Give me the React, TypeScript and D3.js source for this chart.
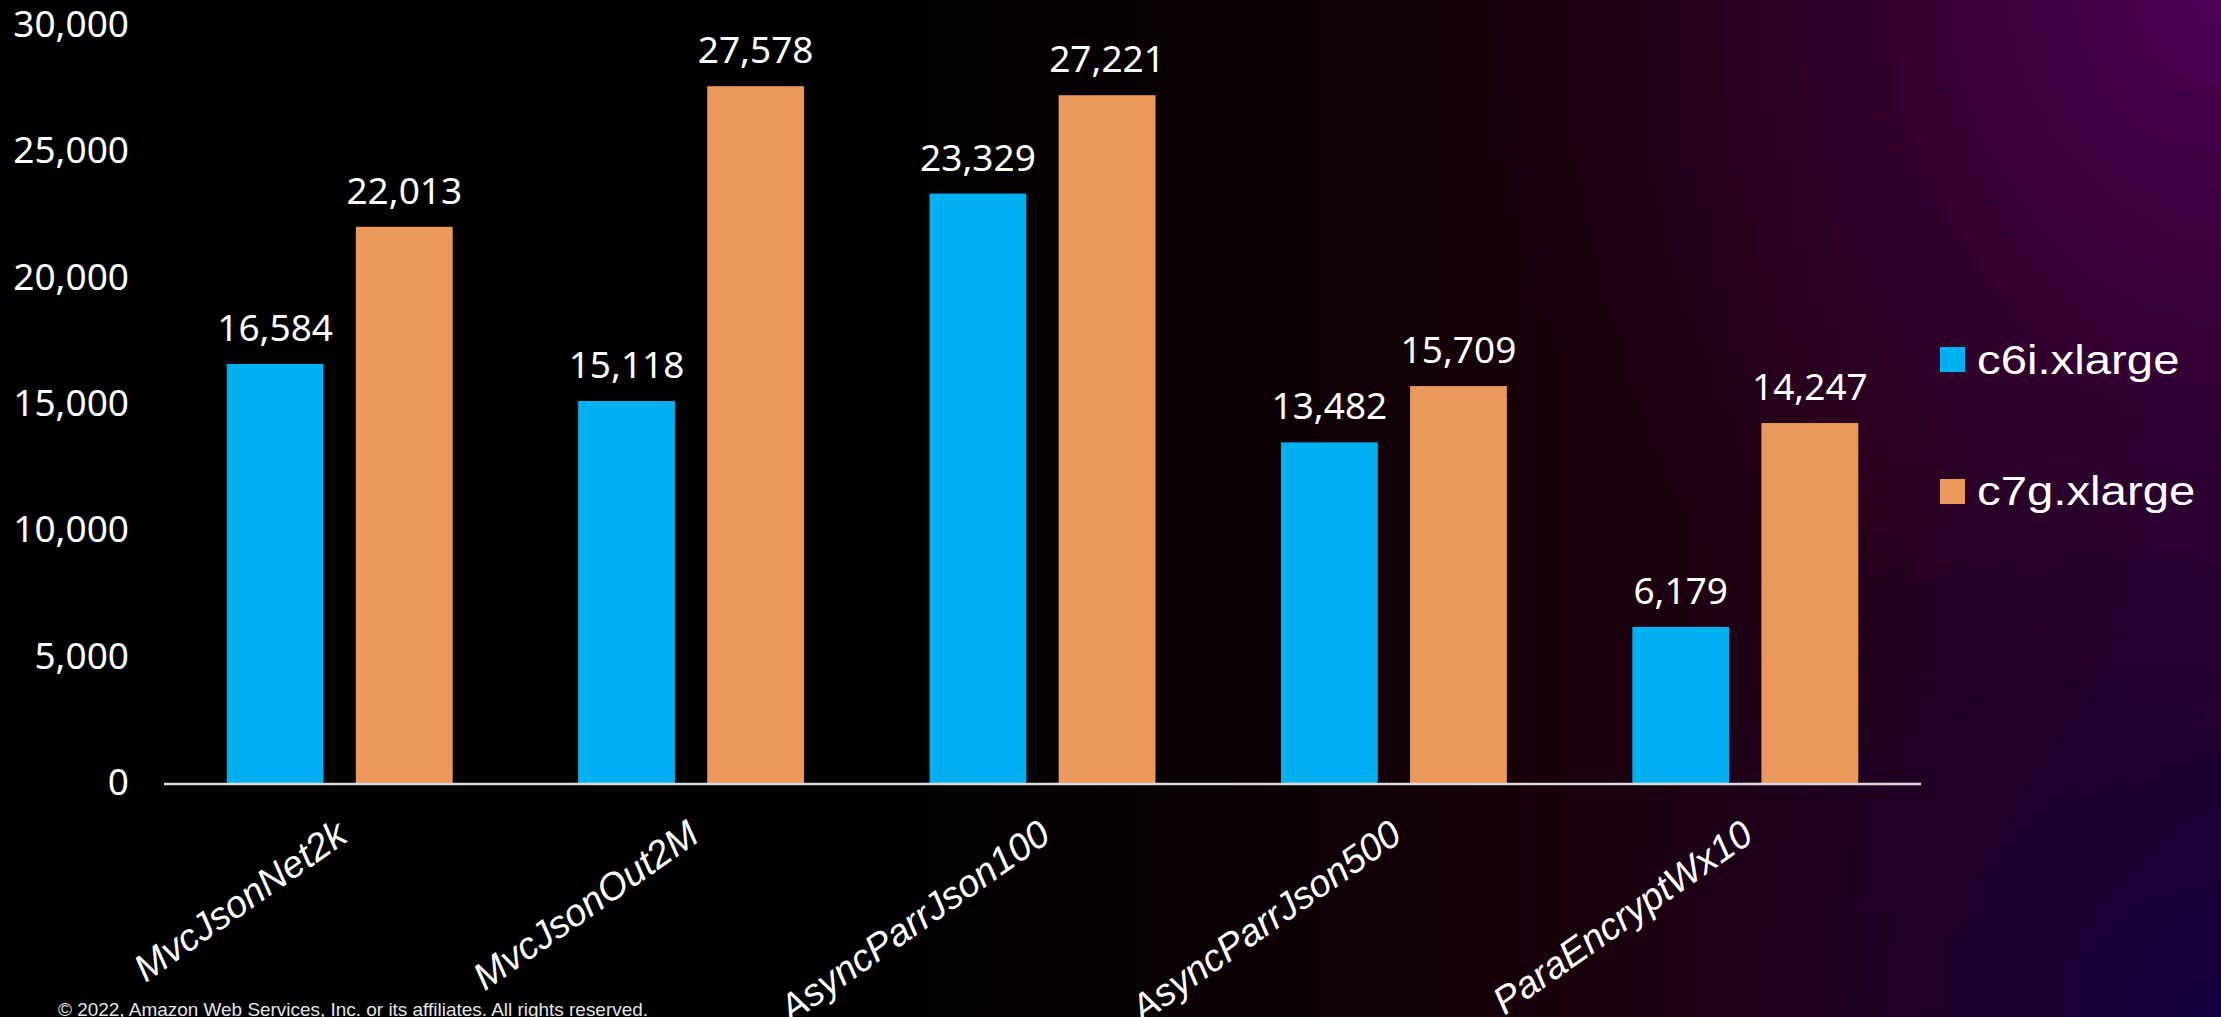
import React from "react";
import * as d3 from "d3";

const categories = ["MvcJsonNet2k", "MvcJsonOut2M", "AsyncParrJson100", "AsyncParrJson500", "ParaEncryptWx10"];
const seriesNames = ["c6i.xlarge", "c7g.xlarge"];
const c6iValues = [16584, 15118, 23329, 13482, 6179];
const c7gValues = [22013, 27578, 27221, 15709, 14247];
const yTicks = [0, 5000, 10000, 15000, 20000, 25000, 30000];
const seriesColors = ["#00B0F0", "#EC995C"];

const W = 2221;
const H = 1017;

export default function App() {
  const x = d3.scaleBand<string>().domain(categories).range([164, 1921]).paddingInner(0.357).paddingOuter(0.1785);
  const xInner = d3.scaleBand<string>().domain(seriesNames).range([0, x.bandwidth()]).paddingInner(0.25);
  const y = d3.scaleLinear().domain([0, 30000]).range([783, 25]);
  const fmt = d3.format(",");
  const seriesValues = [c6iValues, c7gValues];

  return (
    <svg width={W} height={H} style={{ position: "absolute", left: 0, top: 0, display: "block" }}>
      <defs>
        <linearGradient id="bgH" x1="0" y1="0" x2="1" y2="0">
          <stop offset="0" stopColor="#000000" />
          <stop offset="0.4" stopColor="#010000" />
          <stop offset="0.55" stopColor="#0b0204" />
          <stop offset="0.7" stopColor="#18000b" />
          <stop offset="0.85" stopColor="#260018" />
          <stop offset="1" stopColor="#2c002c" />
        </linearGradient>
        <radialGradient id="bgTR" cx={W} cy={0} r={750} gradientUnits="userSpaceOnUse">
          <stop offset="0" stopColor="#500058" stopOpacity="0.95" />
          <stop offset="0.5" stopColor="#3e0040" stopOpacity="0.45" />
          <stop offset="1" stopColor="#3e0040" stopOpacity="0" />
        </radialGradient>
        <radialGradient id="bgBR" cx={W} cy={H} r={650} gradientUnits="userSpaceOnUse">
          <stop offset="0" stopColor="#120040" stopOpacity="0.9" />
          <stop offset="0.6" stopColor="#150035" stopOpacity="0.35" />
          <stop offset="1" stopColor="#150035" stopOpacity="0" />
        </radialGradient>
      </defs>
      <rect x={0} y={0} width={W} height={H} fill="url(#bgH)" />
      <rect x={0} y={0} width={W} height={H} fill="url(#bgTR)" />
      <rect x={0} y={0} width={W} height={H} fill="url(#bgBR)" />

      {/* y tick labels */}
      {yTicks.map((t) => (
        <text key={t} x={129} y={y(t) + 12} textAnchor="end" fill="#ffffff" fontFamily="'Noto Sans', sans-serif" fontSize={37}>
          {fmt(t)}
        </text>
      ))}

      {/* bars */}
      {categories.map((c, i) => (
        <g key={c} transform={`translate(${x(c)},0)`}>
          {seriesNames.map((s, j) => {
            const v = seriesValues[j][i];
            const bx = xInner(s)!;
            return (
              <g key={s}>
                <rect x={bx} y={y(v)} width={xInner.bandwidth()} height={y(0) - y(v)} fill={seriesColors[j]} />
                <text x={bx + xInner.bandwidth() / 2} y={y(v) - 23} textAnchor="middle" fill="#ffffff" fontFamily="'Noto Sans', sans-serif" fontSize={37}>
                  {fmt(v)}
                </text>
              </g>
            );
          })}
        </g>
      ))}

      {/* axis line */}
      <line x1={164} x2={1921} y1={784} y2={784} stroke="#dcdcdc" strokeWidth={2.5} />

      {/* category labels */}
      {categories.map((c) => (
        <g key={c} transform={`translate(${x(c)! + x.bandwidth() / 2 + 10},840) rotate(-35)`}>
          <text textAnchor="end" fill="#ffffff" fontFamily="'Liberation Sans', Arial, sans-serif" fontStyle="italic" fontSize={38}>
            {c}
          </text>
        </g>
      ))}

      {/* legend */}
      {seriesNames.map((s, j) => (
        <g key={s}>
          <rect x={1940} y={347 + j * 132} width={25} height={25} fill={seriesColors[j]} />
          <g transform={`translate(1977,${374 + j * 131}) scale(1.183,1)`}>
            <text fill="#ffffff" fontFamily="'Liberation Sans', Arial, sans-serif" fontSize={40}>
              {s}
            </text>
          </g>
        </g>
      ))}

      {/* footer */}
      <text x={58} y={1016} fill="#e6e6e6" fontFamily="'Liberation Sans', Arial, sans-serif" fontSize={19} textLength={590} lengthAdjust="spacingAndGlyphs">
        © 2022, Amazon Web Services, Inc. or its affiliates. All rights reserved.
      </text>
    </svg>
  );
}
